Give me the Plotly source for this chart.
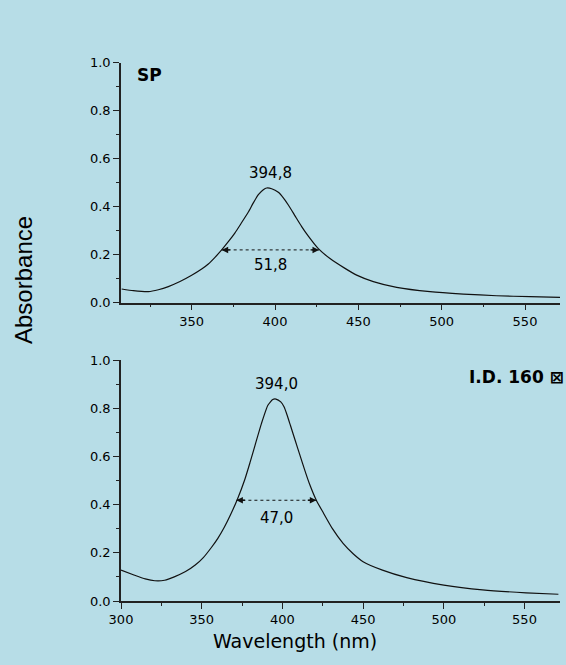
import plotly.graph_objects as go

# ---- data ----
sp_wl = [308, 315, 324, 330, 336, 343, 350, 356, 360, 364, 368, 372, 376, 380, 384, 387, 390, 393,
         395, 398, 402, 405, 408, 412, 416, 420, 426, 433, 442, 449, 459, 473, 493, 513, 533, 553, 571]
sp_abs = [0.057, 0.050, 0.046, 0.054, 0.067, 0.088, 0.114, 0.140, 0.161, 0.189, 0.220, 0.254, 0.291,
          0.334, 0.378, 0.416, 0.450, 0.471, 0.478, 0.475, 0.460, 0.437, 0.407, 0.362, 0.317, 0.277,
          0.225, 0.184, 0.143, 0.115, 0.088, 0.064, 0.046, 0.036, 0.029, 0.025, 0.0225]

id_wl = [300, 308, 315, 321, 327, 333, 340, 346, 351, 356, 360, 364, 368, 372, 376.6, 380, 383, 387,
         391, 394, 396, 399, 401, 403, 405, 408, 411, 414, 417, 421, 425, 431, 437.6, 444, 450, 462,
         477, 500, 524, 551, 571]
id_abs = [0.128, 0.108, 0.092, 0.084, 0.086, 0.100, 0.122, 0.149, 0.180, 0.222, 0.260, 0.306, 0.360,
          0.420, 0.502, 0.576, 0.645, 0.736, 0.812, 0.836, 0.838, 0.826, 0.806, 0.770, 0.728, 0.665,
          0.602, 0.540, 0.482, 0.418, 0.370, 0.300, 0.239, 0.195, 0.163, 0.128, 0.097, 0.066, 0.046,
          0.034, 0.028]

sp_peak = (394.8, 0.478, "394,8")
id_peak = (394.0, 0.838, "394,0")
sp_fwhm = ([368.0, 426.4], 0.22, "51,8")
id_fwhm = ([371.5, 421.0], 0.418, "47,0")

panel_labels = ["SP", "I.D. 160 \u22a0"]
y_title = "Absorbance"
x_title = "Wavelength (nm)"

# ---- figure ----
BG = "#b7dde7"
LINE = "#111111"
FONT = "DejaVu Sans, Liberation Sans, Arial"

fig = go.Figure()
fig.add_trace(go.Scatter(x=sp_wl, y=sp_abs, mode="lines",
                         line=dict(color=LINE, width=1.2, shape="spline", smoothing=0.5),
                         xaxis="x", yaxis="y", showlegend=False, hoverinfo="skip"))
fig.add_trace(go.Scatter(x=id_wl, y=id_abs, mode="lines",
                         line=dict(color=LINE, width=1.2, shape="spline", smoothing=0.5),
                         xaxis="x2", yaxis="y2", showlegend=False, hoverinfo="skip"))

annotations = []
for (xs, yv, lab), xa, ya, lab_shift in [(sp_fwhm, "x", "y", -15), (id_fwhm, "x2", "y2", -18)]:
    fig.add_trace(go.Scatter(x=xs, y=[yv, yv], mode="lines",
                             line=dict(color=LINE, width=1, dash="dot"),
                             xaxis=xa, yaxis=ya, showlegend=False, hoverinfo="skip"))
    # arrow heads pointing outward
    annotations.append(dict(x=xs[0], y=yv, xref=xa, yref=ya, ax=10, ay=0, text="", showarrow=True,
                            arrowhead=2, arrowsize=1, arrowwidth=1.3, arrowcolor=LINE))
    annotations.append(dict(x=xs[1], y=yv, xref=xa, yref=ya, ax=-10, ay=0, text="", showarrow=True,
                            arrowhead=2, arrowsize=1, arrowwidth=1.3, arrowcolor=LINE))
    annotations.append(dict(x=(xs[0] + xs[1]) / 2, y=yv, xref=xa, yref=ya, text=lab, showarrow=False,
                            yshift=lab_shift, font=dict(family=FONT, size=15, color="black")))

for (px, py, lab), xa, ya in [(sp_peak, "x", "y"), (id_peak, "x2", "y2")]:
    annotations.append(dict(x=px, y=py, xref=xa, yref=ya, text=lab, showarrow=False, yanchor="bottom",
                            xshift=4, yshift=4, font=dict(family=FONT, size=15, color="black")))

annotations.append(dict(x=135 / 566, y=1 - 75 / 665, xref="paper", yref="paper", text="<b>%s</b>" % panel_labels[0],
                        showarrow=False, xanchor="left", yanchor="middle",
                        font=dict(family=FONT, size=17, color="black")))
annotations.append(dict(x=566 / 566, y=1 - 377 / 665, xref="paper", yref="paper", text="<b>%s</b>" % panel_labels[1],
                        showarrow=False, xanchor="right", yanchor="middle",
                        font=dict(family=FONT, size=17, color="black")))
annotations.append(dict(x=23 / 566, y=1 - 280 / 665, xref="paper", yref="paper", text=y_title, textangle=-90,
                        showarrow=False, xanchor="center", yanchor="middle",
                        font=dict(family="Liberation Sans, Arial", size=24, color="black")))
annotations.append(dict(x=295 / 566, y=1 - 641 / 665, xref="paper", yref="paper", text=x_title,
                        showarrow=False, xanchor="center", yanchor="middle",
                        font=dict(family=FONT, size=19, color="black")))

xdom = [121 / 566, 560 / 566]
common_x = dict(showline=True, linecolor="#222222", linewidth=1.5, ticks="outside", ticklen=6, tickwidth=1.2,
                tickcolor="#222222", showgrid=False, zeroline=False, dtick=50, tick0=300, automargin=False,
                tickfont=dict(family=FONT, size=13, color="black"),
                minor=dict(ticks="outside", ticklen=3, tickwidth=1, tickcolor="#222222", dtick=25, tick0=300,
                           showgrid=False))
common_y = dict(showline=True, linecolor="#222222", linewidth=1.5, ticks="outside", ticklen=6, tickwidth=1.2,
                tickcolor="#222222", showgrid=False, zeroline=False, range=[0, 1.0], dtick=0.2, tick0=0,
                automargin=False, tickformat=".1f", tickfont=dict(family=FONT, size=13, color="black"),
                minor=dict(ticks="outside", ticklen=3, tickwidth=1, tickcolor="#222222", dtick=0.1, tick0=0,
                           showgrid=False))

fig.update_layout(
    width=566, height=665,
    margin=dict(l=0, r=0, t=0, b=0),
    paper_bgcolor=BG, plot_bgcolor="rgba(0,0,0,0)",
    xaxis=dict(domain=xdom, anchor="y", range=[307.6, 571], **common_x),
    yaxis=dict(domain=[1 - 302.7 / 665, 1 - 62.7 / 665], anchor="x", **common_y),
    xaxis2=dict(domain=xdom, anchor="y2", range=[300, 572], **common_x),
    yaxis2=dict(domain=[1 - 601 / 665, 1 - 360 / 665], anchor="x2", **common_y),
    annotations=annotations,
)

fig.write_html("out.html")
